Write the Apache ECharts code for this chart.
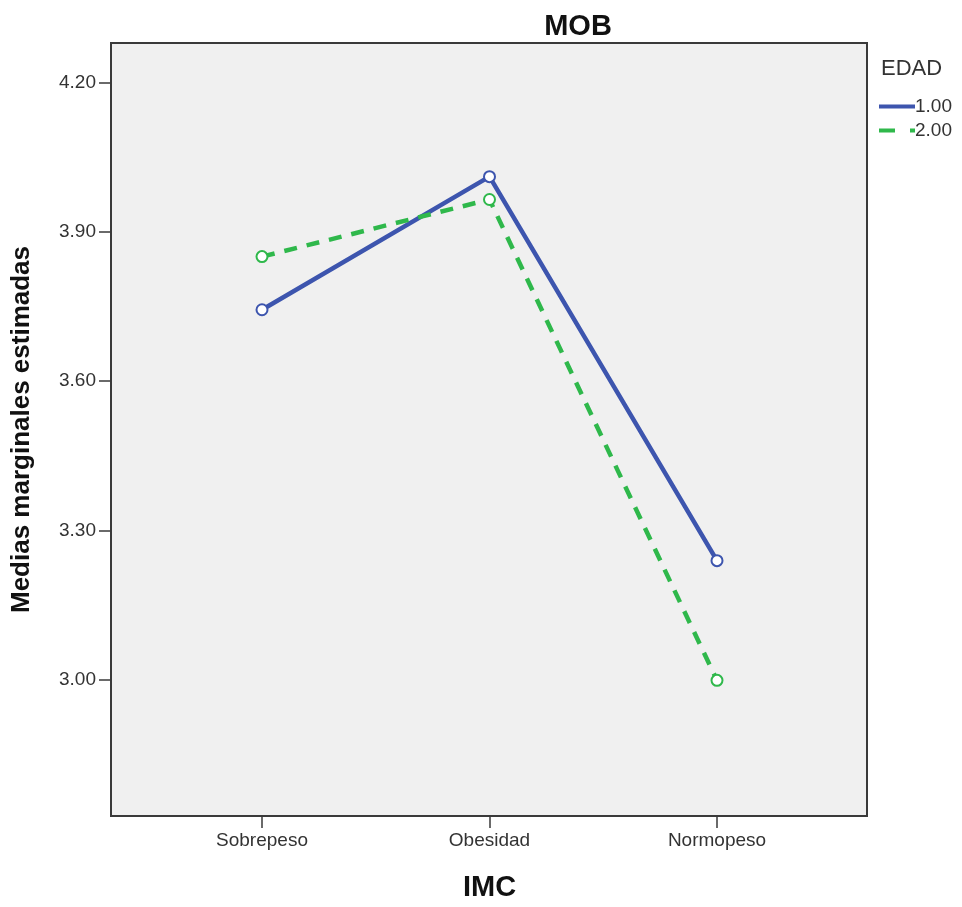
<!DOCTYPE html>
<html>
<head>
<meta charset="utf-8">
<script src="https://cdn.jsdelivr.net/npm/echarts@6/dist/echarts.min.js"></script>
<style>
  html, body { margin: 0; padding: 0; background: #fff; }
  #chart { width: 962px; height: 907px; }
</style>
</head>
<body>
<div id="chart"></div>
<script>
// Estimated marginal means of MOB by IMC group, one line per EDAD level
const categories = ['Sobrepeso', 'Obesidad', 'Normopeso'];
const edad1 = [3.743, 4.011, 3.238];
const edad2 = [3.850, 3.965, 2.997];
const seriesNames = ['1.00', '2.00'];
const yTicks = [3.00, 3.30, 3.60, 3.90, 4.20];

const FONT = 'Liberation Sans, Arial, sans-serif';
const Y_MIN = 2.726, Y_MAX = 4.28;
const BLUE = '#3d55ae', GREEN = '#2fb84b';
const AXIS_DARK = '#3a3a3a';

const chart = echarts.init(document.getElementById('chart'));
chart.setOption({
  backgroundColor: '#ffffff',
  animation: false,
  title: {
    text: 'MOB',
    left: 573, top: 7, textAlign: 'center',
    textStyle: { fontFamily: FONT, fontSize: 29, fontWeight: 'bold', color: '#111' }
  },
  graphic: [{
    type: 'text', left: 881, top: 58,
    style: { text: 'EDAD', fontFamily: FONT, fontSize: 22, fill: '#333' }
  }],
  legend: {
    orient: 'vertical', left: 874, top: 92,
    itemWidth: 36, itemHeight: 4, itemGap: 5,
    textStyle: { fontFamily: FONT, fontSize: 19, color: '#333', padding: [0, 0, 0, -5] },
    data: [
      { name: seriesNames[0], icon: 'rect' },
      // dash followed by a short dot, like the dashed series line
      { name: seriesNames[1], icon: 'path://M0,0h16v4h-16z M31,0h5v4h-5z' }
    ]
  },
  grid: [
    // plot frame with grey panel
    { left: 111, right: 95, top: 43, bottom: 91, show: true,
      backgroundColor: '#f0f0f0', borderColor: AXIS_DARK, borderWidth: 2 },
    // area holding the category positions
    { left: 262, right: 245, top: 43, bottom: 91 }
  ],
  xAxis: [
    { gridIndex: 0, type: 'value', show: false, min: 0, max: 1 },
    { gridIndex: 1, type: 'category', data: categories, boundaryGap: false,
      axisLine: { show: false },
      axisTick: { show: true, length: 13, lineStyle: { color: AXIS_DARK, width: 1.5 } },
      axisLabel: { fontFamily: FONT, fontSize: 19, color: '#333', margin: 16 },
      name: 'IMC', nameLocation: 'middle', nameGap: 58,
      nameTextStyle: { fontFamily: FONT, fontSize: 29, fontWeight: 'bold', color: '#111' } }
  ],
  yAxis: [
    { gridIndex: 0, type: 'value', min: Y_MIN, max: Y_MAX,
      splitLine: { show: false }, axisLine: { show: false },
      axisTick: { show: true, length: 12, customValues: yTicks, lineStyle: { color: AXIS_DARK, width: 1.5 } },
      axisLabel: { customValues: yTicks, formatter: v => v.toFixed(2),
        fontFamily: FONT, fontSize: 19, color: '#333', margin: 15 },
      name: 'Medias marginales estimadas', nameLocation: 'middle', nameRotate: 90, nameGap: 76,
      nameTextStyle: { fontFamily: FONT, fontSize: 26, fontWeight: 'bold', color: '#111' } },
    { gridIndex: 1, type: 'value', min: Y_MIN, max: Y_MAX, show: false, splitLine: { show: false } }
  ],
  series: [
    { name: seriesNames[0], type: 'line', xAxisIndex: 1, yAxisIndex: 1, data: edad1,
      symbol: 'emptyCircle', symbolSize: 11,
      lineStyle: { color: BLUE, width: 4.5 },
      itemStyle: { color: BLUE, borderWidth: 1.5 } },
    { name: seriesNames[1], type: 'line', xAxisIndex: 1, yAxisIndex: 1, data: edad2,
      symbol: 'emptyCircle', symbolSize: 11,
      lineStyle: { color: GREEN, width: 4.5, type: [13, 10] },
      itemStyle: { color: GREEN, borderWidth: 1.5 } }
  ]
});
</script>
</body>
</html>
